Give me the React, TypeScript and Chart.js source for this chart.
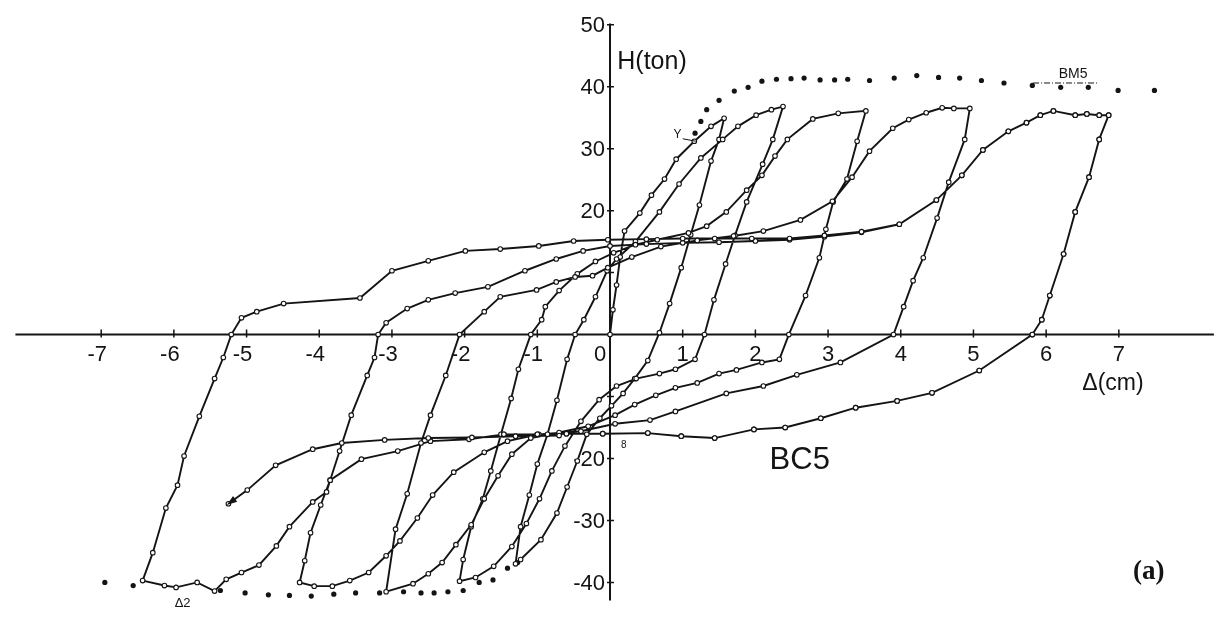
import React, { useEffect, useRef } from "react";
import { Chart, registerables } from "chart.js";

Chart.register(...registerables);

type P = [number, number];

// ---- axis ticks ----
const xTicks = [-7, -6, -5, -4, -3, -2, -1, 0, 1, 2, 3, 4, 5, 6, 7];
const yTickMarks = [50, 40, 30, 20, 10, -10, -20, -30, -40];
const yTickLabels = [50, 40, 30, 20, -20, -30, -40];

// ---- BC5 hysteresis branches (Δ cm, H ton), in loading order ----
const virginToA: P[] = [[0, 0], [0.04, 4], [0.09, 8], [0.14, 12.5], [0.2, 16.7], [0.41, 19.6], [0.57, 22.5], [0.75, 25.1], [0.91, 28.3], [1.16, 31.2], [1.39, 33.6], [1.57, 34.9]];
const unloadA: P[] = [[1.5, 31.5], [1.39, 28.0], [1.23, 20.9], [1.11, 16.1], [0.98, 10.8], [0.82, 5.0], [0.68, 0.3], [0.52, -4.2], [0.34, -7.1], [0.18, -9.5], [0.02, -11.5]];
const toN1: P[] = [[-0.14, -13.5], [-0.32, -16.1], [-0.45, -20.4], [-0.59, -24.6], [-0.73, -28.8], [-0.95, -33.1], [-1.23, -36.3], [-1.3, -37.0]];
const unloadN1: P[] = [[-1.23, -31.0], [-1.11, -25.9], [-1.0, -20.9], [-0.86, -16.1], [-0.73, -10.6], [-0.59, -4.0], [-0.48, 0], [-0.36, 2.4], [-0.2, 6.1], [-0.04, 10.3]];
const toB: P[] = [[0.09, 12.2], [0.35, 15.0], [0.68, 19.8], [0.95, 24.3], [1.25, 28.5], [1.55, 31.5], [1.76, 33.6], [2.01, 35.4], [2.22, 36.3], [2.38, 36.8]];
const unloadB: P[] = [[2.24, 31.5], [2.1, 27.5], [1.88, 21.4], [1.72, 16.0], [1.59, 11.4], [1.43, 5.6], [1.3, 0], [1.17, -4.0], [0.9, -5.6], [0.68, -6.3], [0.36, -7.1], [0.09, -8.3]];
const toN2: P[] = [[-0.15, -10.5], [-0.4, -14], [-0.62, -18], [-0.8, -22], [-0.97, -26.5], [-1.15, -30.5], [-1.35, -34.2], [-1.6, -37.4], [-1.85, -39.2], [-2.07, -39.8]];
const unloadN2: P[] = [[-2.02, -36.3], [-1.91, -31.0], [-1.75, -26.5], [-1.64, -22.0], [-1.5, -16.1], [-1.36, -10.3], [-1.26, -5.6], [-1.09, 0], [-0.94, 2.4], [-0.89, 4.5], [-0.7, 7.1], [-0.45, 9.8], [-0.2, 11.8], [0.05, 13.2]];
const toC: P[] = [[0.35, 14.5], [0.65, 15.3], [1.08, 16.4], [1.33, 17.5], [1.6, 19.8], [1.88, 23.3], [2.09, 25.7], [2.27, 28.8], [2.44, 31.5], [2.79, 34.8], [3.14, 35.7], [3.52, 36.1]];
const unloadC: P[] = [[3.4, 31.2], [3.26, 25.1], [3.07, 21.4], [2.97, 17], [2.88, 12.4], [2.69, 6.3], [2.46, 0], [2.33, -4.0], [2.09, -4.5], [1.74, -5.7], [1.5, -6.3], [1.2, -7.8], [0.9, -8.6], [0.63, -9.8], [0.34, -11.3], [0.07, -13.0]];
const toN3: P[] = [[-0.3, -14.8], [-0.7, -15.8], [-1.09, -16.7], [-1.35, -19.3], [-1.54, -22.8], [-1.73, -26.5], [-1.91, -30.7], [-2.12, -33.9], [-2.31, -36.8], [-2.5, -38.6], [-2.71, -40.2], [-3.08, -41.5]];
const unloadN3: P[] = [[-2.95, -31.4], [-2.79, -25.7], [-2.6, -17.5], [-2.47, -13.0], [-2.26, -6.6], [-2.07, 0], [-1.73, 3.7], [-1.51, 6.1], [-1.01, 7.2], [-0.74, 8.5], [-0.48, 9.3], [-0.24, 9.5], [-0.03, 10.8]];
const toD: P[] = [[0.3, 12.5], [0.7, 14.2], [1.2, 15.2], [1.7, 15.9], [2.11, 16.7], [2.62, 18.5], [3.06, 21.5], [3.33, 25.4], [3.57, 29.6], [3.89, 33.3], [4.11, 34.7], [4.35, 35.8], [4.57, 36.6], [4.73, 36.5], [4.95, 36.5]];
const unloadD: P[] = [[4.88, 31.5], [4.66, 24.6], [4.5, 18.8], [4.31, 12.4], [4.17, 8.7], [4.04, 4.5], [3.9, 0], [3.17, -4.5], [2.57, -6.5], [2.11, -8.3], [1.6, -9.5], [0.9, -12.4], [0.55, -13.8], [0.07, -14.4]];
const toN4: P[] = [[-0.4, -15.6], [-0.98, -16.1], [-1.41, -17.2], [-1.73, -19.0], [-2.15, -22.2], [-2.44, -25.9], [-2.65, -29.6], [-2.89, -33.3], [-3.08, -35.7], [-3.32, -38.4], [-3.58, -39.7], [-3.82, -40.6], [-4.07, -40.6], [-4.27, -40.0]];
const unloadN4: P[] = [[-4.2, -36.5], [-4.12, -32.0], [-3.98, -27.5], [-3.85, -23.5], [-3.72, -18.8], [-3.56, -13.0], [-3.34, -6.6], [-3.24, -3.7], [-3.19, 0], [-3.08, 1.9], [-2.79, 4.2], [-2.5, 5.6], [-2.13, 6.7], [-1.68, 7.7], [-1.17, 10.3], [-0.74, 12.2], [-0.37, 13.5], [0, 14.3], [0.5, 14.6], [1.0, 14.8], [1.5, 14.9], [2.0, 15.1], [2.47, 15.3], [2.95, 15.8], [3.46, 16.5]];
const toE: P[] = [[3.98, 17.8], [4.49, 21.7], [4.84, 25.7], [5.13, 29.8], [5.48, 32.8], [5.73, 34.2], [5.92, 35.4], [6.1, 36.1], [6.4, 35.4], [6.56, 35.6], [6.73, 35.4], [6.86, 35.4]];
const unloadE: P[] = [[6.73, 31.5], [6.59, 25.4], [6.4, 19.8], [6.24, 13.0], [6.05, 6.3], [5.94, 2.4], [5.81, 0], [5.08, -5.8], [4.43, -9.4], [3.95, -10.7], [3.38, -11.8], [2.9, -13.5], [2.41, -15.0], [1.98, -15.3], [1.44, -16.7], [0.98, -16.4], [0.52, -15.9], [-0.1, -16.0], [-0.6, -16.0], [-1.0, -16.1], [-1.46, -16.1]];
const toN5: P[] = [[-1.94, -16.9], [-2.47, -17.2], [-2.92, -18.8], [-3.42, -20.1], [-3.85, -23.5], [-3.9, -25.4], [-4.09, -27.0], [-4.41, -31.0], [-4.59, -34.1], [-4.83, -37.2], [-5.07, -38.4], [-5.28, -39.5], [-5.44, -41.4], [-5.68, -40.0], [-5.97, -40.8], [-6.13, -40.5], [-6.43, -39.7]];
const unloadN5: P[] = [[-6.29, -35.2], [-6.11, -28.0], [-5.95, -24.3], [-5.86, -19.6], [-5.65, -13.2], [-5.44, -7.1], [-5.32, -3.7], [-5.21, 0], [-5.07, 2.7], [-4.86, 3.7], [-4.49, 5.0], [-3.44, 5.9], [-3.0, 10.3], [-2.5, 11.9], [-1.99, 13.5], [-1.51, 13.8], [-0.98, 14.3], [-0.5, 15.1], [-0.03, 15.3], [0.5, 15.4], [1.0, 15.5], [1.44, 15.5], [1.95, 15.5], [2.47, 15.5], [2.95, 16.0], [3.46, 16.6]];
const finalRun: P[] = [[-0.7, -16.3], [-1.3, -16.4], [-1.9, -16.6], [-2.5, -16.7], [-3.1, -17.0], [-3.69, -17.5], [-4.09, -18.5], [-4.6, -21.1], [-4.99, -25.1], [-5.25, -27.3]];

// ---- BM5 envelope (dotted) ----
const bm5Upper: P[] = [[1.17, 32.5], [1.25, 34.4], [1.33, 36.3], [1.5, 37.8], [1.71, 39.3], [1.9, 39.9], [2.09, 40.9], [2.29, 41.2], [2.49, 41.3], [2.67, 41.4], [2.89, 41.1], [3.09, 41.1], [3.27, 41.2], [3.57, 41.0], [3.91, 41.4], [4.22, 41.8], [4.52, 41.5], [4.81, 41.4], [5.11, 41.0], [5.42, 40.6], [5.81, 40.2], [6.2, 39.9], [6.58, 39.9], [6.99, 39.4], [7.49, 39.4]];
const bm5Lower: P[] = [[-6.95, -40.0], [-6.56, -40.5], [-5.36, -41.3], [-5.02, -41.7], [-4.7, -42.0], [-4.41, -42.1], [-4.11, -42.2], [-3.8, -41.9], [-3.5, -41.7], [-3.17, -41.7], [-2.84, -41.5], [-2.6, -41.7], [-2.42, -41.7], [-2.23, -41.5], [-2.02, -41.3], [-1.8, -40.0], [-1.61, -39.6], [-1.41, -37.7], [-1.27, -36.8]];

const bc5Path: P[][] = [
  virginToA, unloadA, toN1, unloadN1, toB, unloadB, toN2, unloadN2, toC,
  unloadC, toN3, unloadN3, toD, unloadD, toN4, unloadN4, toE, unloadE, toN5,
  unloadN5, toE, unloadE, finalRun,
];

const toXY = (pts: P[]) => pts.map(([x, y]) => ({ x, y }));

const INK = "#141414";
const SANS = '"Liberation Sans", Arial, sans-serif';

const crossAxes = {
  id: "crossAxes",
  beforeDatasetsDraw(chart: any) {
    const { ctx } = chart;
    const xs = chart.scales.x;
    const ys = chart.scales.y;
    const x0 = xs.getPixelForValue(0);
    const y0 = ys.getPixelForValue(0);
    ctx.save();
    ctx.strokeStyle = INK;
    ctx.lineWidth = 2;
    ctx.beginPath();
    ctx.moveTo(xs.getPixelForValue(-8.18), y0);
    ctx.lineTo(xs.right, y0);
    ctx.moveTo(x0, ys.getPixelForValue(50.2));
    ctx.lineTo(x0, ys.getPixelForValue(-42.9));
    ctx.stroke();
    ctx.lineWidth = 1.5;
    ctx.beginPath();
    xTicks.forEach((v) => {
      if (v === 0) return;
      const px = xs.getPixelForValue(v);
      ctx.moveTo(px, y0 - 5);
      ctx.lineTo(px, y0 + 3);
    });
    yTickMarks.forEach((v) => {
      const py = ys.getPixelForValue(v);
      ctx.moveTo(x0 - 3, py);
      ctx.lineTo(x0 + 4, py);
    });
    ctx.stroke();

    ctx.fillStyle = INK;
    ctx.font = `22px ${SANS}`;
    ctx.textBaseline = "middle";
    ctx.textAlign = "center";
    xTicks.forEach((v) => {
      const px = v === 0 ? x0 - 10 : xs.getPixelForValue(v) - (v < 0 ? 4 : 0);
      ctx.fillText(v < 0 ? `-${Math.abs(v)}` : String(v), px, y0 + 20);
    });
    ctx.textAlign = "right";
    yTickLabels.forEach((v) => {
      ctx.fillText(v < 0 ? `-${Math.abs(v)}` : String(v), x0 - 5, ys.getPixelForValue(v) + 1);
    });
    ctx.restore();
  },
  afterDraw(chart: any) {
    const { ctx } = chart;
    const xs = chart.scales.x;
    const ys = chart.scales.y;
    const px = (v: number) => xs.getPixelForValue(v);
    const py = (v: number) => ys.getPixelForValue(v);
    ctx.save();
    ctx.fillStyle = INK;
    ctx.strokeStyle = INK;

    // arrowhead at the end of the last excursion
    const n = finalRun.length;
    const [ax, ay] = finalRun[n - 1];
    const [bx, by] = finalRun[n - 2];
    const tipX = px(ax), tipY = py(ay);
    const ang = Math.atan2(tipY - py(by), tipX - px(bx));
    ctx.beginPath();
    ctx.moveTo(tipX + 2 * Math.cos(ang), tipY + 2 * Math.sin(ang));
    ctx.lineTo(tipX - 9 * Math.cos(ang - 0.4), tipY - 9 * Math.sin(ang - 0.4));
    ctx.lineTo(tipX - 9 * Math.cos(ang + 0.4), tipY - 9 * Math.sin(ang + 0.4));
    ctx.closePath();
    ctx.fill();

    ctx.textBaseline = "middle";
    ctx.textAlign = "left";
    ctx.font = `25px ${SANS}`;
    ctx.fillText("H(ton)", px(0.1), py(44.0));

    ctx.textAlign = "center";
    ctx.font = `23px ${SANS}`;
    ctx.fillText("Δ(cm)", px(6.92), py(-7.9));

    ctx.font = `31px ${SANS}`;
    ctx.fillText("BC5", px(2.61), py(-20.3));

    ctx.font = `bold 27px "Liberation Serif", "Times New Roman", serif`;
    ctx.fillText("(a)", px(7.41), py(-38.4));

    ctx.font = `14px ${SANS}`;
    ctx.fillText("BM5", px(6.37), py(42.0));
    ctx.lineWidth = 1;
    ctx.setLineDash([6, 2, 1, 2]);
    ctx.beginPath();
    ctx.moveTo(px(5.82), py(40.6));
    ctx.lineTo(px(6.7), py(40.6));
    ctx.stroke();
    ctx.setLineDash([]);

    ctx.font = `12px ${SANS}`;
    ctx.fillText("Y", px(0.93), py(32.2));
    ctx.beginPath();
    ctx.moveTo(px(1.0), py(31.6));
    ctx.lineTo(px(1.18), py(31.2));
    ctx.stroke();

    ctx.font = `13px ${SANS}`;
    ctx.fillText("Δ2", px(-5.88), py(-43.4));

    ctx.font = `10px ${SANS}`;
    ctx.fillText("8", px(0.19), py(-17.8));
    ctx.restore();
  },
};

export default function App() {
  const canvasRef = useRef<HTMLCanvasElement | null>(null);

  useEffect(() => {
    document.body.style.margin = "0";
    const canvas = canvasRef.current;
    if (!canvas) return;
    const bc5Data = toXY(bc5Path.flat());
    const chart = new Chart(canvas, {
      type: "scatter",
      data: {
        datasets: [
          {
            label: "BC5",
            data: bc5Data,
            showLine: true,
            borderColor: INK,
            borderWidth: 1.9,
            pointRadius: 2.3,
            pointBackgroundColor: "#ffffff",
            pointBorderColor: INK,
            pointBorderWidth: 1.1,
            tension: 0,
          },
          {
            label: "BM5 upper",
            data: toXY(bm5Upper),
            showLine: false,
            pointRadius: 2.6,
            pointBackgroundColor: INK,
            pointBorderColor: INK,
            pointBorderWidth: 0,
          },
          {
            label: "BM5 lower",
            data: toXY(bm5Lower),
            showLine: false,
            pointRadius: 2.6,
            pointBackgroundColor: INK,
            pointBorderColor: INK,
            pointBorderWidth: 0,
          },
        ],
      },
      options: {
        animation: false,
        responsive: true,
        maintainAspectRatio: false,
        layout: { padding: 0 },
        clip: false,
        plugins: { legend: { display: false }, tooltip: { enabled: false } },
        scales: {
          x: { type: "linear", min: -8.322, max: 8.308, display: false },
          y: { type: "linear", min: -45.4, max: 53.17, display: false },
        },
      },
      plugins: [crossAxes],
    });
    return () => chart.destroy();
  }, []);

  return (
    <div style={{ position: "absolute", left: 0, top: 0, width: 1219, height: 621, background: "#fff" }}>
      <canvas ref={canvasRef} />
    </div>
  );
}
